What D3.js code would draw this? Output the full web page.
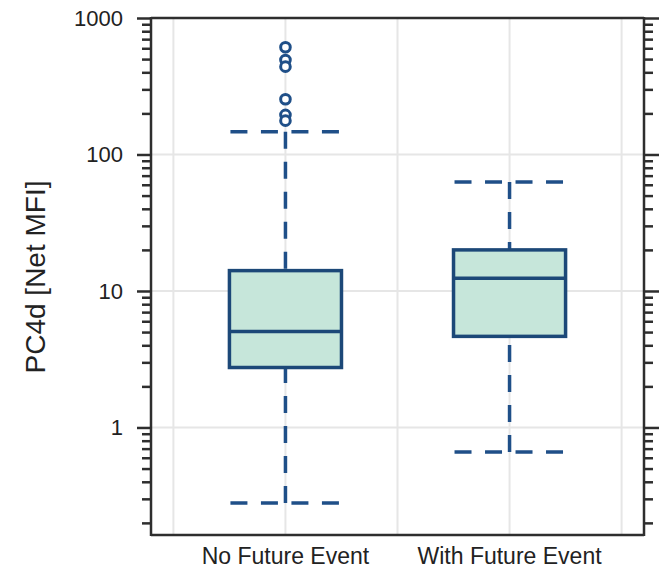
<!DOCTYPE html>
<html lang="en">
<head>
  <meta charset="UTF-8">
  <title>PC4d boxplot</title>
  <style>
    body { margin: 0; background: #fff; }
    text { font-family: "Liberation Sans", Arial, sans-serif; fill: #222; }
  </style>
</head>
<body>

<svg id="chart" width="665" height="575"></svg>

<script src="https://cdnjs.cloudflare.com/ajax/libs/d3/7.8.5/d3.min.js"></script>
<script>
// datos
var categories = ["No Future Event", "With Future Event"];
var whiskerLow = [0.28, 0.66];
var q1 = [2.75, 4.65];
var median = [5.05, 12.4];
var q3 = [14.1, 20.0];
var whiskerHigh = [147, 63];
var outliers = [
  [610, 492, 440, 254, 195, 177],
  []
];
var majorTicks = [1, 10, 100, 1000];
var majorLabels = ["1", "10", "100", "1000"];
var gridX = [0.5, 1, 1.5, 2, 2.5];

// ojo: "top" choca con window.top, por eso los prefijos
var svg = d3.select("#chart"),
  pLeft = 151, pRight = 644, pTop = 18, pBottom = 535,
  navy = "#1c4878",
  dashBlue = "#1f4f88",
  fill = "#c6e6da",
  axisCol = "#2e2e2e";

var x = d3.scaleLinear().domain([0.4, 2.6]).range([pLeft, pRight]);
var y = d3.scaleLog().domain([0.163, 1000]).range([pBottom, pTop]);

// marcas menores (2..9 de cada decada)
var minorTicks = [];
[0.1, 1, 10, 100].forEach(function (d) {
  for (var k = 2; k <= 9; k++) {
    var v = d * k;
    if (v >= y.domain()[0] && v < 1000) minorTicks.push(v);
  }
});

// rejilla
var grid = svg.append("g");
grid.selectAll(".gx").data(gridX).enter().append("line")
  .attr("x1", d => x(d)).attr("x2", d => x(d))
  .attr("y1", pTop).attr("y2", pBottom)
  .attr("stroke", "#e6e6e6").attr("stroke-width", 2);
grid.selectAll(".gy").data([1, 10, 100]).enter().append("line")
  .attr("x1", pLeft).attr("x2", pRight)
  .attr("y1", d => y(d)).attr("y2", d => y(d))
  .attr("stroke", "#e6e6e6").attr("stroke-width", 2);

var bw = 0.5; // ancho de caja en unidades de x
var boxes = svg.append("g");

categories.forEach(function (c, i) {
  var cx = x(i + 1), x0 = x(i + 1 - bw / 2), x1 = x(i + 1 + bw / 2);

  // bigotes
  boxes.append("line")
    .attr("x1", cx).attr("x2", cx)
    .attr("y1", y(whiskerHigh[i])).attr("y2", y(q3[i]))
    .attr("stroke", dashBlue).attr("stroke-width", 3.5)
    .attr("stroke-dasharray", "17,13");
  boxes.append("line")
    .attr("x1", cx).attr("x2", cx)
    .attr("y1", y(whiskerLow[i])).attr("y2", y(q1[i]))
    .attr("stroke", dashBlue).attr("stroke-width", 3.5)
    .attr("stroke-dasharray", "17,13");
  [whiskerHigh[i], whiskerLow[i]].forEach(function (v) {
    boxes.append("line")
      .attr("x1", x0 + 1).attr("x2", x1)
      .attr("y1", y(v)).attr("y2", y(v))
      .attr("stroke", dashBlue).attr("stroke-width", 3.5)
      .attr("stroke-dasharray", "17,13.5");
  });

  // caja
  boxes.append("rect")
    .attr("x", x0).attr("width", x1 - x0)
    .attr("y", y(q3[i])).attr("height", y(q1[i]) - y(q3[i]))
    .attr("fill", fill).attr("stroke", navy).attr("stroke-width", 3.5);
  boxes.append("line")
    .attr("x1", x0).attr("x2", x1)
    .attr("y1", y(median[i])).attr("y2", y(median[i]))
    .attr("stroke", navy).attr("stroke-width", 3.5);

  // atipicos
  boxes.selectAll(".out" + i).data(outliers[i]).enter().append("circle")
    .attr("cx", cx).attr("cy", d => y(d)).attr("r", 4.8)
    .attr("fill", "#fff").attr("stroke", dashBlue).attr("stroke-width", 3);
});

// marco
var frame = svg.append("g").attr("stroke", axisCol).attr("stroke-width", 2.5);
frame.append("line").attr("x1", pLeft).attr("x2", pRight).attr("y1", pTop).attr("y2", pTop);
frame.append("line").attr("x1", pLeft).attr("x2", pRight).attr("y1", pBottom).attr("y2", pBottom);

// eje izquierdo
var yLeft = svg.append("g").attr("transform", "translate(" + pLeft + ",0)");
yLeft.call(d3.axisLeft(y).tickValues(majorTicks).tickSize(14)
  .tickFormat((d, i) => majorLabels[i]).tickPadding(14));
yLeft.append("g").call(d3.axisLeft(y).tickValues(minorTicks).tickSize(9).tickFormat(""));
yLeft.selectAll(".domain").remove();
yLeft.append("line").attr("y1", pTop - 1).attr("y2", pBottom + 1);
yLeft.selectAll("line").attr("stroke", axisCol).attr("stroke-width", 2.5);
yLeft.selectAll("text").attr("font-size", 22).attr("fill", "#1c1c2e")
  .attr("font-family", "Liberation Sans, Arial, sans-serif");

// eje derecho
var yRight = svg.append("g").attr("transform", "translate(" + pRight + ",0)");
yRight.call(d3.axisRight(y).tickValues(majorTicks).tickSize(15).tickFormat(""));
yRight.append("g").call(d3.axisRight(y).tickValues(minorTicks).tickSize(9).tickFormat(""));
yRight.selectAll(".domain").remove();
yRight.append("line").attr("y1", pTop - 1).attr("y2", pBottom + 1);
yRight.selectAll("line").attr("stroke", axisCol).attr("stroke-width", 2.5);

// etiquetas x
svg.selectAll(".xl").data(categories).enter().append("text")
  .attr("x", (d, i) => x(i + 1)).attr("y", 564)
  .attr("text-anchor", "middle").attr("font-size", 23)
  .text(d => d);

// titulo eje y
svg.append("text")
  .attr("transform", "translate(45,277) rotate(-90)")
  .attr("text-anchor", "middle").attr("font-size", 28)
  .text("PC4d [Net MFI]");
</script>

</body>
</html>
